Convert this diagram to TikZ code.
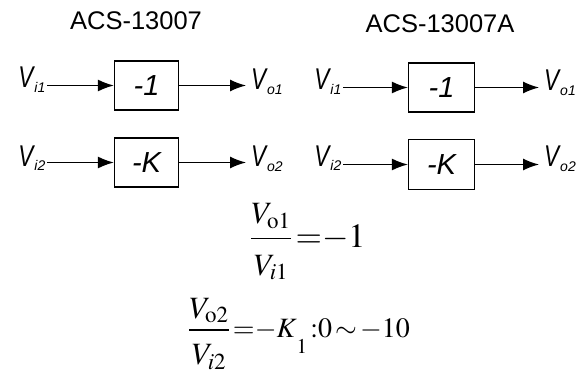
\documentclass[tikz,border=0pt]{standalone}
\usepackage{amsmath}
\usepackage{graphicx}
\usepackage{mathptmx}
\usepackage{fontspec}
\setmainfont{Liberation Serif}
\newfontfamily\arialfont{Liberation Sans}
\usetikzlibrary{arrows.meta}

% signal name with a small lowered index
\newcommand{\vsig}[1]{\scalebox{0.75}[1]{V}\kern1pt\raisebox{-5pt}{\fontsize{14}{14}\selectfont #1}}
\newcommand{\fracpart}[1]{\mbox{\fontsize{31}{32}\selectfont$#1$}}

\tikzset{
  gainbox/.style={draw, line width=1.3pt, minimum width=64pt, minimum height=49pt,
    font=\arialfont\itshape\fontsize{29}{30}\selectfont},
  siglabel/.style={inner ysep=0pt, inner xsep=1.5pt, font=\arialfont\itshape\fontsize{30}{32}\selectfont},
  outlabel/.style={siglabel, inner xsep=5pt, anchor=base west},
  inlabel/.style={siglabel, anchor=base east},
  sigline/.style={line width=1.3pt, -{Latex[length=16pt,width=12pt]}},
  modeltitle/.style={font=\arialfont\fontsize{25.5}{28}\selectfont},
  ratio/.style={anchor=base west, inner sep=0pt},
}

\begin{document}
\begin{tikzpicture}[x=1pt,y=-1pt]
\useasboundingbox (0,0) rectangle (580,374);
% ACS-13007
\node[modeltitle] (ltitle) at (136,21) {ACS-13007};
\node[inlabel] (li1) at (47,88) {\vsig{i1}};
\node[gainbox] (lb1) at (146.5,85.5) {-1};
\node[outlabel] (lo1) at (246,90) {\vsig{o1}};
\draw[sigline] (li1.east |- lb1.west) -- (lb1.west);
\draw[sigline] (lb1.east) -- (lb1.east -| lo1.west);
\node[inlabel] (li2) at (47,166) {\vsig{i2}};
\node[gainbox] (lb2) at (146.5,162.5) {-K};
\node[outlabel] (lo2) at (246,167) {\vsig{o2}};
\draw[sigline] (li2.east |- lb2.west) -- (lb2.west);
\draw[sigline] (lb2.east) -- (lb2.east -| lo2.west);
% ACS-13007A
\node[modeltitle] (rtitle) at (440,23.5) {ACS-13007A};
\node[inlabel] (ri1) at (343,90) {\vsig{i1}};
\node[gainbox,minimum width=66pt] (rb1) at (441.5,87.5) {-1};
\node[outlabel] (ro1) at (539,91) {\vsig{o1}};
\draw[sigline] (ri1.east |- rb1.west) -- (rb1.west);
\draw[sigline] (rb1.east) -- (rb1.east -| ro1.west);
\node[inlabel] (ri2) at (343,166) {\vsig{i2}};
\node[gainbox,minimum width=66pt,minimum height=50pt] (rb2) at (441.5,164.5) {-K};
\node[outlabel] (ro2) at (539,167) {\vsig{o2}};
\draw[sigline] (ri2.east |- rb2.west) -- (rb2.west);
\draw[sigline] (rb2.east) -- (rb2.east -| ro2.west);
% gains
\node[ratio,font=\fontsize{34}{36}\selectfont] (eq1) at (250,247)
  {$\dfrac{\fracpart{V_{\mathrm{o}1}}}{\fracpart{\rule{0pt}{32pt}V_{i1}}}\,{=}{-}1$};
\node[ratio,font=\fontsize{28}{30}\selectfont] (eq2) at (188,337)
  {$\dfrac{\fracpart{V_{\mathrm{o}2}}}{\fracpart{\rule{0pt}{31pt}V_{i2}}}\,{=}{-}K\mbox{\raisebox{-16pt}{\fontsize{21}{22}\selectfont$1$}}\,{:}0\,{\sim}\,{-}10$};
\end{tikzpicture}
\end{document}
